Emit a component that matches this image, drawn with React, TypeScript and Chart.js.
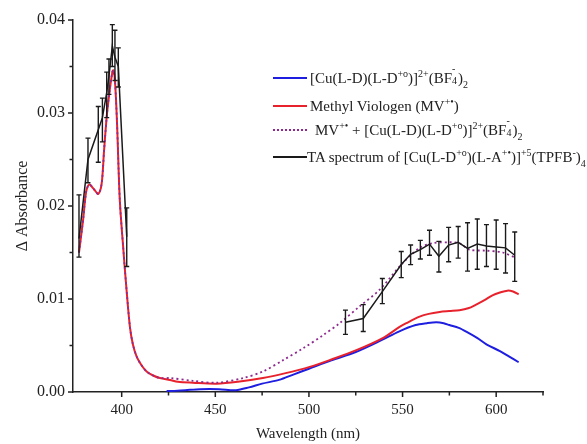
import React, { useEffect, useRef } from "react";
import { Chart, registerables } from "chart.js";

Chart.register(...registerables);

// ---------- data ----------
const cuWavelength = [424, 426, 434, 442, 452, 461, 468, 475, 484, 492, 500, 512, 525, 539, 548, 557, 563, 568, 572, 575, 580, 584, 590, 595, 602, 607, 612];
const cuAbsorbance = [0.0001, 0.0001, 0.0002, 0.0003, 0.0003, 0.0002, 0.0005, 0.0009, 0.0013, 0.0019, 0.0025, 0.0034, 0.0043, 0.0056, 0.0065, 0.0072, 0.0074, 0.0075, 0.0074, 0.0072, 0.0069, 0.0065, 0.0058, 0.0051, 0.0044, 0.0038, 0.0032];

const mvWavelength = [377.2, 379.4, 381, 382.7, 385.2, 387.5, 389.3, 390.6, 392, 393.2, 395, 395.6, 396.4, 397.5, 399, 400.9, 402.3, 404.4, 406, 408, 410.5, 413.3, 416.5, 420.4, 425.8, 430, 438, 450.7, 462, 475.4, 487, 500.4, 512, 525.3, 539.4, 548.4, 552, 559.1, 564, 569.8, 575, 580.4, 585, 589.3, 594, 598, 602, 606, 609, 612];
const mvAbsorbance = [0.015, 0.0185, 0.0215, 0.0223, 0.0218, 0.0213, 0.0224, 0.026, 0.0296, 0.0318, 0.0344, 0.0346, 0.0335, 0.029, 0.0206, 0.0153, 0.0117, 0.007, 0.0051, 0.0038, 0.0029, 0.0022, 0.0018, 0.0015, 0.0013, 0.0011, 0.001, 0.0009, 0.0011, 0.0015, 0.002, 0.0027, 0.0035, 0.0045, 0.0058, 0.007, 0.0074, 0.0081, 0.0084, 0.0086, 0.0087, 0.0088, 0.009, 0.0094, 0.0099, 0.0104, 0.0107, 0.0109, 0.0108, 0.0105];

const sumWavelength = [377.2, 379.4, 381, 382.7, 385.2, 387.5, 389.3, 390.6, 392, 393.2, 395, 395.6, 396.4, 397.5, 399, 400.9, 402.3, 404.4, 406, 408, 410.5, 413.3, 416.5, 420.4, 425.8, 438, 450.7, 464.9, 475.4, 486, 496.9, 507.5, 516.4, 527, 537.8, 549.3, 559.1, 566.2, 575.1, 580.4, 585.8, 594.7, 603.5, 610.7];
const sumAbsorbance = [0.015, 0.0185, 0.0215, 0.0223, 0.0218, 0.0213, 0.0224, 0.026, 0.0296, 0.0318, 0.0344, 0.0346, 0.0335, 0.029, 0.0206, 0.0153, 0.0117, 0.007, 0.0051, 0.0038, 0.0029, 0.0022, 0.0018, 0.0015, 0.0015, 0.0012, 0.001, 0.0015, 0.0022, 0.0034, 0.0047, 0.0061, 0.0074, 0.0092, 0.011, 0.0137, 0.0155, 0.016, 0.0161, 0.016, 0.0153, 0.0152, 0.015, 0.0144];

const taWavelength = [377.2, 382, 387.5, 389.7, 392, 393.2, 395, 396.4, 398.2, 402.7, 460, 519.5, 529, 539.2, 549.3, 554.3, 559.5, 564.4, 569.4, 574.6, 579.7, 584.7, 589.9, 594.8, 600, 605, 609.9];
const taAbsorbance = [0.0165, 0.025, 0.0282, 0.0295, 0.0322, 0.034, 0.0372, 0.036, 0.035, 0.0167, null, 0.0075, 0.0079, 0.0108, 0.0137, 0.0148, 0.0153, 0.0159, 0.0146, 0.0158, 0.0161, 0.01545, 0.0159, 0.0157, 0.0156, 0.0155, 0.0147];
const taLow = [0.0145, 0.0225, 0.0247, 0.0269, 0.0295, 0.032, 0.035, 0.0335, 0.0328, 0.0135, null, 0.0062, 0.0065, 0.0095, 0.0123, 0.0137, 0.0143, 0.0147, 0.0129, 0.014, 0.0144, 0.013, 0.0132, 0.0135, 0.0132, 0.0128, 0.0119];
const taHigh = [0.0212, 0.0273, 0.0307, 0.0316, 0.0344, 0.0358, 0.0395, 0.0389, 0.037, 0.0198, null, 0.0088, 0.0094, 0.0122, 0.0151, 0.0158, 0.0163, 0.0174, 0.0162, 0.0177, 0.0178, 0.0182, 0.0186, 0.018, 0.0185, 0.0181, 0.0172];

const xTickValues = [400, 425, 450, 475, 500, 525, 550, 575, 600, 625];
const yTickValues = [0, 0.005, 0.01, 0.015, 0.02, 0.025, 0.03, 0.035, 0.04];

const FONT = "'Liberation Serif', 'Times New Roman', serif";
const INK = "#222";

const toPoints = (xs: number[], ys: (number | null)[]) => xs.map((x, i) => ({ x, y: ys[i] }));

const tickPlugin = {
  id: "customTicks",
  afterDraw(chart: any) {
    const ctx = chart.ctx;
    const xs = chart.scales.x;
    const ys = chart.scales.y;
    const area = chart.chartArea;
    ctx.save();
    ctx.strokeStyle = INK;
    ctx.lineWidth = 1.5;
    ctx.beginPath();
    xTickValues.forEach((v) => {
      const px = xs.getPixelForValue(v);
      const len = v % 50 === 0 ? 5 : 3.5;
      ctx.moveTo(px, area.bottom);
      ctx.lineTo(px, area.bottom + len);
    });
    yTickValues.forEach((v) => {
      const py = ys.getPixelForValue(v);
      const major = Math.abs(v * 100 - Math.round(v * 100)) < 1e-6;
      const len = major ? 5 : 3.5;
      ctx.moveTo(area.left, py);
      ctx.lineTo(area.left - len, py);
    });
    ctx.stroke();
    ctx.restore();
  },
};

const errorBarPlugin = {
  id: "errorBars",
  afterDatasetsDraw(chart: any) {
    const ctx = chart.ctx;
    const xs = chart.scales.x;
    const ys = chart.scales.y;
    ctx.save();
    ctx.strokeStyle = "#1a1a1a";
    ctx.lineWidth = 1.4;
    ctx.beginPath();
    taWavelength.forEach((w, i) => {
      const lo = taLow[i];
      const hi = taHigh[i];
      if (lo == null || hi == null) return;
      const px = xs.getPixelForValue(w);
      const pLo = ys.getPixelForValue(lo);
      const pHi = ys.getPixelForValue(hi);
      ctx.moveTo(px, pLo);
      ctx.lineTo(px, pHi);
      ctx.moveTo(px - 2.5, pLo);
      ctx.lineTo(px + 2.5, pLo);
      ctx.moveTo(px - 2.5, pHi);
      ctx.lineTo(px + 2.5, pHi);
    });
    ctx.stroke();
    ctx.restore();
  },
};

const supStyle: React.CSSProperties = { fontSize: "10px", position: "relative", top: "-6px", lineHeight: 0 };
const subStyle: React.CSSProperties = { fontSize: "10px", position: "relative", top: "5px", lineHeight: 0 };

const Sup = ({ t }: { t: string }) => <span style={supStyle}>{t}</span>;
const Sub = ({ t }: { t: string }) => <span style={subStyle}>{t}</span>;
const SupSub = ({ sup, sub }: { sup: string; sub: string }) => (
  <span style={{ display: "inline-block", position: "relative", width: "6px", height: "10px" }}>
    <span style={{ ...supStyle, position: "absolute", left: 0, top: "-4px" }}>{sup}</span>
    <span style={{ ...subStyle, position: "absolute", left: 0, top: "8px" }}>{sub}</span>
  </span>
);

const LegendRow = ({ top, lineLeft, textLeft, color, dashed, children }: any) => (
  <div style={{ position: "absolute", top: top - 10, left: 0, height: 20, width: 600 }}>
    <div
      style={{
        position: "absolute",
        left: lineLeft,
        top: 9,
        width: 34,
        height: 0,
        borderTop: dashed ? `2px dotted ${color}` : `2px solid ${color}`,
      }}
    />
    <div
      style={{
        position: "absolute",
        left: textLeft,
        top: 0,
        height: 20,
        lineHeight: "20px",
        whiteSpace: "nowrap",
        fontFamily: FONT,
        fontSize: "15px",
        color: INK,
      }}
    >
      {children}
    </div>
  </div>
);

export default function App() {
  const canvasRef = useRef<HTMLCanvasElement | null>(null);

  useEffect(() => {
    if (!canvasRef.current) return;
    const chart = new Chart(canvasRef.current, {
      type: "line",
      data: {
        datasets: [
          {
            label: "TA",
            data: toPoints(taWavelength, taAbsorbance) as any,
            borderColor: "#1a1a1a",
            borderWidth: 1.5,
            pointRadius: 0,
            spanGaps: false,
            tension: 0,
            order: 0,
          },
          {
            label: "Sum",
            data: toPoints(sumWavelength, sumAbsorbance) as any,
            borderColor: "#8e2a8e",
            borderWidth: 1.8,
            borderDash: [2, 3],
            pointRadius: 0,
            tension: 0.3,
            order: 1,
          },
          {
            label: "MV",
            data: toPoints(mvWavelength, mvAbsorbance) as any,
            borderColor: "#e8222c",
            borderWidth: 2,
            pointRadius: 0,
            tension: 0.3,
            order: 2,
          },
          {
            label: "Cu",
            data: toPoints(cuWavelength, cuAbsorbance) as any,
            borderColor: "#1e1ee0",
            borderWidth: 2,
            pointRadius: 0,
            tension: 0.3,
            order: 3,
          },
        ],
      },
      options: {
        animation: false,
        responsive: false,
        layout: { padding: { top: 20, right: 44, left: 0, bottom: 0 } },
        plugins: { legend: { display: false }, tooltip: { enabled: false } },
        scales: {
          x: {
            type: "linear",
            min: 374,
            max: 625,
            afterBuildTicks: (s: any) => {
              s.ticks = xTickValues.map((v) => ({ value: v }));
            },
            afterFit: (s: any) => {
              s.height = 52;
            },
            grid: { display: false, drawTicks: false },
            border: { display: true, color: INK, width: 1.5 },
            ticks: {
              autoSkip: false,
              maxRotation: 0,
              padding: 9,
              color: INK,
              font: { family: FONT, size: 15 },
              callback: (v: any) => (Number(v) % 50 === 0 ? String(v) : ""),
            },
            title: {
              display: true,
              text: "Wavelength (nm)",
              color: INK,
              font: { family: FONT, size: 15 },
              padding: { top: 0, bottom: 1 },
            },
          },
          y: {
            type: "linear",
            min: 0,
            max: 0.04,
            afterBuildTicks: (s: any) => {
              s.ticks = yTickValues.map((v) => ({ value: v }));
            },
            afterFit: (s: any) => {
              s.width = 73;
            },
            grid: { display: false, drawTicks: false },
            border: { display: true, color: INK, width: 1.5 },
            ticks: {
              autoSkip: false,
              padding: 8,
              color: INK,
              font: { family: FONT, size: 16 },
              callback: (v: any) => {
                const n = Number(v);
                return Math.abs(n * 100 - Math.round(n * 100)) < 1e-6 ? n.toFixed(2) : "";
              },
            },
            title: {
              display: true,
              text: "Δ Absorbance",
              color: INK,
              font: { family: FONT, size: 16 },
              padding: { top: 13, bottom: 0 },
            },
          },
        },
      },
      plugins: [tickPlugin, errorBarPlugin],
    } as any);
    return () => chart.destroy();
  }, []);

  return (
    <div style={{ position: "fixed", left: 0, top: 0, width: 587, height: 444, background: "#fff", overflow: "hidden" }}>
      <canvas ref={canvasRef} width={587} height={444} style={{ position: "absolute", left: 0, top: 0 }} />
      <LegendRow top={78} lineLeft={273} textLeft={310} color="#1e1ee0">
        [Cu(L-D)(L-D<Sup t="+o" />)]<Sup t="2+" />(BF<SupSub sup="-" sub="4" />)<Sub t="2" />
      </LegendRow>
      <LegendRow top={106} lineLeft={273} textLeft={310} color="#e8222c">
        Methyl Viologen (MV<Sup t="+•" />)
      </LegendRow>
      <LegendRow top={130} lineLeft={273} textLeft={315} color="#8e2a8e" dashed>
        MV<Sup t="+•" /> + [Cu(L-D)(L-D<Sup t="+o" />)]<Sup t="2+" />(BF<SupSub sup="-" sub="4" />)<Sub t="2" />
      </LegendRow>
      <LegendRow top={157} lineLeft={273} textLeft={307} color="#1a1a1a">
        TA spectrum of [Cu(L-D<Sup t="+o" />)(L-A<Sup t="+•" />)]<Sup t="+5" />(TPFB<Sup t="-" />)<Sub t="4" />
      </LegendRow>
    </div>
  );
}
